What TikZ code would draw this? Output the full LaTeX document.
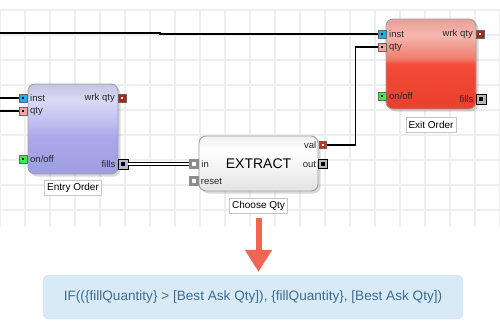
\documentclass[tikz,border=0pt]{standalone}
\usepackage{fontspec}
\setmainfont{Liberation Sans}
\usepackage{xcolor}
\usepackage{tikz}
\usetikzlibrary{arrows.meta,shadows,positioning}
\definecolor{gridc}{HTML}{EEEEEE}
\definecolor{entA}{HTML}{C4C4E4}
\definecolor{entB}{HTML}{DADAF6}
\definecolor{entC}{HTML}{BABAF0}
\definecolor{entD}{HTML}{A8A8EA}
\definecolor{entE}{HTML}{9E9EE2}
\definecolor{exA}{HTML}{E8A098}
\definecolor{exB}{HTML}{F4B8B0}
\definecolor{exC}{HTML}{F07C6C}
\definecolor{exD}{HTML}{F24C3A}
\definecolor{exE}{HTML}{EC3E2C}
\definecolor{xA}{HTML}{F0F0F0}
\definecolor{xB}{HTML}{FFFFFF}
\definecolor{xC}{HTML}{F6F6F6}
\definecolor{xD}{HTML}{E2E2E2}
\definecolor{pInst}{HTML}{1EAEF0}
\definecolor{pQty}{HTML}{F4A4A4}
\definecolor{pOn}{HTML}{3EEE44}
\definecolor{pWrk}{HTML}{A82614}
\definecolor{pVal}{HTML}{C43018}
\definecolor{arr}{HTML}{F26454}
\definecolor{fmFill}{HTML}{D8EAF6}
\definecolor{fmLine}{HTML}{CCE2F2}
\definecolor{fmText}{HTML}{3C6C90}
\pgfdeclareverticalshading{entShade}{100bp}{color(0bp)=(entE); color(25bp)=(entE); color(45bp)=(entD); color(52bp)=(entC); color(66bp)=(entB); color(75bp)=(entA); color(100bp)=(entA)}
\pgfdeclareverticalshading{exShade}{100bp}{color(0bp)=(exE); color(25bp)=(exE); color(50bp)=(exD); color(53bp)=(exC); color(66bp)=(exB); color(75bp)=(exA); color(100bp)=(exA)}
\pgfdeclareverticalshading{xShade}{100bp}{color(0bp)=(xD); color(25bp)=(xD); color(50bp)=(xC); color(62bp)=(xB); color(75bp)=(xA); color(100bp)=(xA)}
\tikzset{
  wire/.style={line width=1.4pt},
  block/.style={draw=gray!75, line width=0.9pt, rounded corners=7pt,
    drop shadow={shadow xshift=2.5pt,shadow yshift=-2.5pt,opacity=.3}},
  port/.style={draw=gray!80!black, line width=0.9pt, minimum size=8pt, inner sep=0pt, outer sep=0pt},
  dotk/.style={path picture={\fill[black] (path picture bounding box.center) +(-1.3pt,-1.3pt) rectangle +(1.3pt,1.3pt);}},
  dotw/.style={path picture={\fill[white] (path picture bounding box.center) +(-1.3pt,-1.3pt) rectangle +(1.3pt,1.3pt);}},
  bigport/.style={port, draw=black, fill=gray!55, minimum size=10pt,
    path picture={\fill[black] (path picture bounding box.center) +(-2.2pt,-2.2pt) rectangle +(2.2pt,2.2pt);}},
  greyport/.style={port, draw=gray!90, fill=gray!90, minimum size=9.5pt,
    path picture={\fill[white] (path picture bounding box.center) +(-2.3pt,-2.3pt) rectangle +(2.3pt,2.3pt);}},
  plbl/.style={font=\fontsize{9.5}{10}\selectfont, text=black!85, inner sep=1pt},
  tag/.style={draw=gray!45, fill=white, font=\fontsize{10}{11}\selectfont, inner xsep=2.5pt, inner ysep=0pt, minimum height=14.5pt}
}

\begin{document}
\begin{tikzpicture}[x=1pt,y=-1pt]
\useasboundingbox (0,0) rectangle (500,335);
\foreach \gx in {0,25,...,500} \draw[gridc,line width=1.3pt] (\gx,10) -- (\gx,227);
\foreach \gy in {10,35,...,210} \draw[gridc,line width=1.3pt] (0,\gy) -- (500,\gy);

\node[block, shading=entShade, minimum width=90pt, minimum height=90pt] (entry) at (73,129) {};
\node[block, shading=exShade, minimum width=90pt, minimum height=90pt] (exitord) at (431,64) {};
\node[block, shading=xShade, minimum width=119pt, minimum height=55pt, font=\fontsize{14}{16}\selectfont] (extract) at (258.5,163.5) {EXTRACT};

\node[tag, below=6pt of entry] (lblEntry) {Entry Order};
\node[tag, below=7pt of extract] (lblQty) {Choose Qty};
\node[tag, below=8pt of exitord] (lblExit) {Exit Order};

\node[port, fill=pInst, dotk] (entInst) at (23,98) {};
\node[port, fill=pQty, dotk] (entQty) at (23,111) {};
\node[port, fill=pOn, dotk] (entOn) at (23,159) {};
\node[port, fill=pWrk, dotw] (entWrk) at (122,98) {};
\node[bigport] (entFills) at (123,164) {};
\node[plbl, right=2pt of entInst] {inst};
\node[plbl, right=2pt of entQty] {qty};
\node[plbl, right=2pt of entOn] {on/off};
\node[plbl, left=2pt of entWrk] {wrk qty};
\node[plbl, left=1.5pt of entFills] {fills};

\node[port, fill=pInst, dotk] (exInst) at (382,34) {};
\node[port, fill=pQty, dotk] (exQty) at (382,47) {};
\node[port, fill=pOn, dotk] (exOn) at (382,96) {};
\node[port, fill=pWrk, dotw] (exWrk) at (480,34) {};
\node[bigport] (exFills) at (481,99) {};
\node[plbl, right=2pt of exInst] {inst};
\node[plbl, right=2pt of exQty] {qty};
\node[plbl, right=2pt of exOn] {on/off};
\node[plbl, left=2pt of exWrk] {wrk qty};
\node[plbl, left=1.5pt of exFills] {fills};

\node[greyport] (xIn) at (194,164) {};
\node[greyport, minimum size=8.5pt] (xReset) at (194,181) {};
\node[port, fill=pVal, dotw, minimum size=7pt] (xVal) at (323,145) {};
\node[bigport, minimum size=8.5pt] (xOut) at (323,164) {};
\node[plbl, right=1.5pt of xIn] {in};
\node[plbl, right=1.5pt of xReset] {reset};
\node[plbl, left=2pt of xVal] {val};
\node[plbl, left=1.5pt of xOut] {out};

\coordinate (topL) at (0,33);
\coordinate (topJog) at (160,33);
\coordinate (entInL) at (0,98);
\coordinate (entQtyL) at (0,111);
\draw[wire] (topL) -- (topJog) -- ++(0,1) -- (exInst.west);
\draw[wire] (entInL) -- (entInst.west);
\draw[wire] (entQtyL) -- (entQty.west);
\draw[line width=1.3pt, double=white, double distance=1.5pt] (entFills.east) -- (xIn.west);
\draw[wire] (xVal.east) -- ++(29,0) |- (exQty.west);

\node[fill=fmFill, draw=fmLine, rounded corners=6pt, minimum width=420pt, minimum height=44pt, text=fmText, font=\fontsize{13.6}{15}\selectfont] (formula) at (253,297) {IF((\{fillQuantity\} > [Best Ask Qty]), \{fillQuantity\}, [Best Ask Qty])};
\draw[arr, line width=6pt, -{Triangle[width=26pt,length=22pt]}, shorten <=5pt, shorten >=3pt] (lblQty.south) -- (lblQty.south |- formula.north);
\end{tikzpicture}
\end{document}
